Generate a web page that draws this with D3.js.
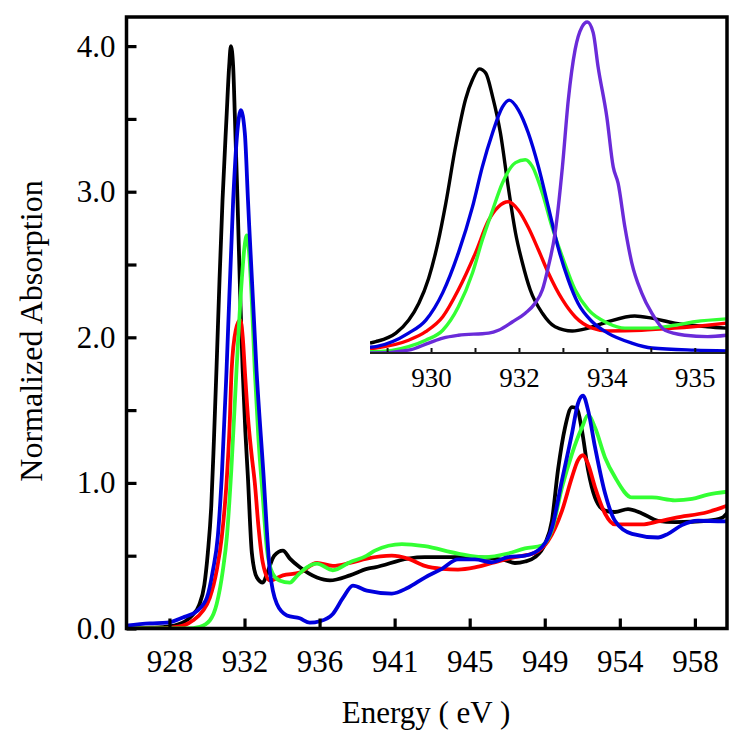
<!DOCTYPE html>
<html><head><meta charset="utf-8">
<script src="https://cdn.jsdelivr.net/npm/d3@7"></script>
<style>body{margin:0;background:#fff}</style>
</head><body>
<svg id="c" width="750" height="745"></svg>
<script>
// ---------- tick labels ----------
const mainXTicks = [928, 932.3, 936.6, 940.9, 945.2, 949.5, 953.8, 958.1];
const mainXLabels = ["928","932","936","941","945","949","954","958"];
const mainYTicks = [0,0.5,1,1.5,2,2.5,3,3.5,4];
const mainYLabels = ["0.0","","1.0","","2.0","","3.0","","4.0"];
const insetXTicks = [929.1, 930.0, 930.9, 931.8, 932.7, 933.6, 934.5, 935.4];
const insetXLabels = ["","930","","932","","934","","935"];

// ---------- main series [energy eV, normalized absorption] ----------
const blackMain = [[925.5,0.0],[926.9,0.005],[928.0,0.015],[928.9,0.05],[929.3,0.09],[929.7,0.16],[930.0,0.30],[930.2,0.52],[930.4,0.85],[930.55,1.3],[930.7,1.8],[930.87,2.4],[931.04,2.94],[931.27,3.51],[931.42,3.86],[931.52,4.0],[931.65,3.86],[931.75,3.51],[931.9,2.94],[932.05,2.3],[932.19,1.79],[932.35,1.35],[932.49,1.05],[932.72,0.52],[933.01,0.35],[933.35,0.315],[933.6,0.38],[934.0,0.50],[934.5,0.535],[934.9,0.48],[935.47,0.42],[936.45,0.35],[937.19,0.33],[938.34,0.365],[939.31,0.41],[939.77,0.42],[941.66,0.48],[942.63,0.49],[945.5,0.49],[947.22,0.47],[947.79,0.45],[948.37,0.46],[948.94,0.49],[949.51,0.58],[949.91,0.74],[950.26,1.09],[950.66,1.38],[951.06,1.52],[951.35,1.51],[951.63,1.36],[951.98,1.09],[952.38,0.90],[952.95,0.81],[953.52,0.80],[954.27,0.82],[955.07,0.79],[955.99,0.74],[956.96,0.73],[958.85,0.74],[959.66,0.76],[960.0,0.80]];
const redMain = [[925.5,0.0],[927.0,0.0],[928.0,0.005],[928.9,0.025],[929.34,0.055],[929.91,0.12],[930.31,0.21],[930.71,0.40],[931.0,0.63],[931.27,1.0],[931.45,1.4],[931.56,1.77],[931.8,2.05],[932.05,2.12],[932.2,2.0],[932.32,1.77],[932.5,1.45],[932.7,1.2],[932.89,1.0],[933.1,0.7],[933.35,0.45],[933.75,0.33],[934.5,0.365],[935.47,0.385],[936.45,0.45],[937.36,0.43],[938.34,0.45],[939.31,0.48],[940.74,0.50],[941.66,0.48],[942.63,0.43],[943.61,0.41],[944.53,0.405],[945.5,0.42],[946.47,0.45],[947.79,0.49],[948.94,0.52],[949.68,0.60],[950.49,0.81],[951.06,1.04],[951.4,1.155],[951.69,1.19],[951.98,1.13],[952.38,0.97],[952.95,0.79],[953.52,0.715],[955.07,0.715],[955.99,0.735],[956.96,0.76],[958.85,0.80],[960.0,0.845]];
const greenMain = [[925.5,0.0],[929.0,0.0],[929.74,0.012],[930.31,0.055],[930.71,0.17],[931.06,0.40],[931.29,0.63],[931.55,1.1],[931.84,1.77],[932.14,2.39],[932.3,2.62],[932.43,2.70],[932.55,2.6],[932.7,2.3],[932.89,1.77],[933.1,1.3],[933.35,0.9],[933.58,0.55],[933.9,0.38],[934.3,0.33],[934.9,0.315],[935.3,0.36],[935.87,0.42],[936.45,0.445],[937.36,0.40],[938.34,0.455],[939.31,0.50],[939.77,0.535],[941.32,0.58],[942.63,0.565],[944.53,0.515],[946.07,0.49],[947.39,0.515],[948.37,0.55],[949.34,0.57],[949.91,0.675],[950.49,0.97],[951.06,1.20],[951.63,1.38],[951.98,1.465],[952.38,1.38],[952.95,1.175],[953.52,1.04],[954.5,0.90],[955.64,0.90],[956.96,0.88],[957.94,0.89],[958.85,0.92],[960.0,0.94]];
const blueMain = [[925.5,0.02],[926.88,0.035],[927.85,0.04],[928.77,0.076],[929.57,0.12],[930.14,0.21],[930.49,0.40],[930.77,0.63],[931.0,1.05],[931.27,1.77],[931.65,2.94],[931.88,3.4],[932.09,3.56],[932.32,3.4],[932.5,2.94],[932.99,1.77],[933.37,1.09],[933.75,0.40],[934.15,0.17],[934.73,0.09],[935.47,0.07],[936.04,0.04],[936.62,0.05],[937.36,0.10],[937.94,0.21],[938.51,0.295],[939.31,0.26],[940.74,0.24],[941.66,0.28],[942.63,0.35],[943.61,0.41],[944.53,0.475],[945.5,0.475],[946.47,0.455],[947.39,0.49],[948.37,0.50],[949.34,0.56],[949.91,0.69],[950.49,1.02],[951.06,1.34],[951.4,1.545],[951.69,1.60],[951.98,1.50],[952.38,1.245],[952.95,0.93],[953.52,0.74],[954.5,0.65],[955.99,0.625],[956.56,0.65],[957.36,0.71],[958.28,0.74],[960.0,0.735]];

// ---------- inset series ----------
const blackInset = [[928.75,0.14],[928.87,0.16],[929.28,0.28],[929.54,0.46],[929.75,0.70],[929.95,1.05],[930.14,1.55],[930.30,2.1],[930.50,2.9],[930.71,3.58],[930.85,3.85],[930.99,4.0],[931.12,3.94],[931.26,3.61],[931.42,3.10],[931.58,2.34],[931.73,1.69],[931.87,1.27],[932.03,0.89],[932.28,0.56],[932.54,0.37],[932.89,0.31],[933.22,0.35],[933.62,0.44],[934.17,0.52],[934.52,0.49],[934.99,0.42],[935.66,0.37],[936.05,0.35]];
const redInset = [[928.75,0.06],[928.87,0.07],[929.54,0.18],[929.89,0.30],[930.24,0.51],[930.56,0.89],[930.91,1.41],[931.18,1.87],[931.38,2.06],[931.58,2.13],[931.79,2.01],[931.99,1.77],[932.20,1.45],[932.40,1.13],[932.69,0.75],[932.95,0.51],[933.30,0.35],[933.62,0.31],[934.31,0.32],[934.99,0.35],[935.66,0.39],[936.05,0.42]];
const greenInset = [[928.75,0.02],[928.87,0.02],[929.54,0.09],[929.89,0.18],[930.24,0.32],[930.56,0.65],[930.85,1.13],[931.05,1.59],[931.26,2.01],[931.46,2.39],[931.73,2.68],[931.93,2.72],[932.07,2.63],[932.28,2.25],[932.48,1.77],[932.69,1.35],[932.95,0.89],[933.22,0.61],[933.62,0.42],[933.97,0.35],[934.52,0.35],[934.99,0.39],[935.40,0.44],[936.05,0.48]];
const blueInset = [[928.75,0.08],[928.87,0.09],[929.54,0.28],[929.89,0.46],[930.24,0.85],[930.56,1.41],[930.85,2.06],[931.05,2.62],[931.26,3.10],[931.46,3.46],[931.60,3.56],[931.79,3.42],[931.99,3.10],[932.20,2.62],[932.40,2.06],[932.60,1.49],[932.81,1.03],[933.01,0.70],[933.30,0.44],[933.62,0.28],[934.11,0.14],[934.52,0.07],[935.40,0.04],[936.05,0.03]];
const purpleInset = [[928.75,0.0],[928.87,0.0],[929.54,0.04],[929.95,0.14],[930.24,0.21],[930.56,0.25],[931.18,0.28],[931.38,0.32],[931.67,0.44],[931.93,0.56],[932.13,0.70],[932.28,0.89],[932.40,1.21],[932.54,1.69],[932.69,2.62],[932.81,3.56],[932.95,4.27],[933.09,4.59],[933.20,4.66],[933.32,4.51],[933.42,4.03],[933.60,3.32],[933.73,2.62],[933.83,2.39],[933.97,1.77],[934.11,1.27],[934.31,0.85],[934.52,0.56],[934.79,0.32],[935.20,0.25],[935.66,0.23],[936.05,0.25]];

const mainSeries = [
  {data: blackMain, color: "#000000"},
  {data: redMain, color: "#ff0000"},
  {data: greenMain, color: "#33ff33"},
  {data: blueMain, color: "#0000dd"}
];
const insetSeries = [
  {data: blackInset, color: "#000000"},
  {data: redInset, color: "#ff0000"},
  {data: greenInset, color: "#33ff33"},
  {data: blueInset, color: "#0000dd"},
  {data: purpleInset, color: "#6a2bd9"}
];

const FONT = "'Liberation Serif','Times New Roman',serif";
const svg = d3.select("#c");

const L = 126.5, R = 727, T = 17, B = 628.5;
const x = d3.scaleLinear().domain([925.54, 959.94]).range([L, R]);
const y = d3.scaleLinear().domain([0, 4.2]).range([B, T]);

const defs = svg.append("defs");
defs.append("clipPath").attr("id","clipMain").append("rect")
  .attr("x",L).attr("y",T).attr("width",R-L).attr("height",B-T);

const line = d3.line().x(d=>x(d[0])).y(d=>y(d[1])).curve(d3.curveMonotoneX);
const gMain = svg.append("g").attr("clip-path","url(#clipMain)");
mainSeries.forEach(s=>{
  gMain.append("path").attr("d", line(s.data)).attr("fill","none")
    .attr("stroke", s.color).attr("stroke-width",3.8).attr("stroke-linejoin","round");
});

// axes
const yAxis = d3.axisLeft(y).tickValues(mainYTicks)
  .tickFormat((d,i)=>mainYLabels[i]).tickSize(-10).tickSizeOuter(0).tickPadding(11);
const gy = svg.append("g").attr("transform",`translate(${L},0)`).call(yAxis);
const xAxis = d3.axisBottom(x).tickValues(mainXTicks)
  .tickFormat((d,i)=>mainXLabels[i]).tickSize(-10).tickSizeOuter(0).tickPadding(21);
const gx = svg.append("g").attr("transform",`translate(0,${B})`).call(xAxis);
[gx, gy].forEach(g=>{
  g.select(".domain").remove();
  g.selectAll(".tick line").attr("stroke","#000").attr("stroke-width",3.2);
  g.selectAll(".tick text").attr("font-family",FONT).attr("font-size",31).attr("fill","#000");
});

// inset
const iL = 370, iR = R, iT = T, iB = 353;
const xi = d3.scaleLinear().domain([928.75, 936.06]).range([iL, iR]);
const yi = d3.scaleLinear().domain([0, 4.73]).range([iB, iT]);
defs.append("clipPath").attr("id","clipInset").append("rect")
  .attr("x",iL).attr("y",iT).attr("width",iR-iL).attr("height",iB-iT);
svg.append("rect").attr("x",iL).attr("y",iT).attr("width",iR-iL).attr("height",iB-iT).attr("fill","#fff");
const lineI = d3.line().x(d=>xi(d[0])).y(d=>yi(d[1])).curve(d3.curveMonotoneX);
const gIn = svg.append("g").attr("clip-path","url(#clipInset)");
insetSeries.forEach(s=>{
  gIn.append("path").attr("d", lineI(s.data)).attr("fill","none")
    .attr("stroke", s.color).attr("stroke-width",3.4).attr("stroke-linejoin","round");
});
const xiAxis = d3.axisBottom(xi).tickValues(insetXTicks)
  .tickFormat((d,i)=>insetXLabels[i]).tickSize(-5).tickSizeOuter(0).tickPadding(15);
const gxi = svg.append("g").attr("transform",`translate(0,${iB})`).call(xiAxis);
gxi.select(".domain").remove();
gxi.selectAll(".tick line").attr("stroke","#111").attr("stroke-width",2);
gxi.selectAll(".tick text").attr("font-family",FONT).attr("font-size",27).attr("fill","#000");
svg.append("line").attr("x1",iL).attr("x2",iR).attr("y1",iB).attr("y2",iB)
  .attr("stroke","#222").attr("stroke-width",2.2);

// frame
svg.append("rect").attr("x",L).attr("y",T).attr("width",R-L).attr("height",B-T)
  .attr("fill","none").attr("stroke","#000").attr("stroke-width",3.5);

// titles
svg.append("text").attr("x",426).attr("y",723).attr("text-anchor","middle")
  .attr("font-family",FONT).attr("font-size",31).text("Energy ( eV )");
svg.append("text").attr("transform","translate(42,331) rotate(-90)").attr("text-anchor","middle")
  .attr("font-family",FONT).attr("font-size",32).text("Normalized Absorption");
</script>
</body></html>
